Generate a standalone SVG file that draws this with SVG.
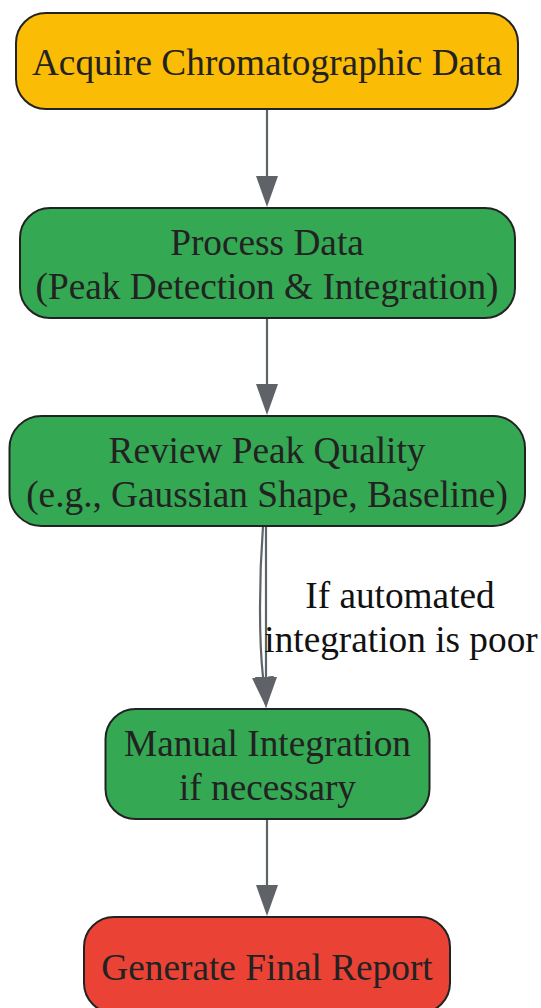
<svg xmlns="http://www.w3.org/2000/svg" width="541" height="1008" viewBox="0 0 541 1008">
<defs>
<style>
.node rect{stroke:#222222;stroke-width:2}
.node text{font-family:"Liberation Serif","Times New Roman",serif;font-size:37.3px;fill:#222222;text-anchor:middle}
.yellow rect{fill:#FBBC05}
.green rect{fill:#34A853}
.red rect{fill:#EA4335}
.edges path{fill:none;stroke:#5F6368;stroke-width:2.2}
.elabel{font-family:"Liberation Serif","Times New Roman",serif;font-size:37.3px;fill:#111111;text-anchor:middle}
</style>
<marker id="arrow" markerUnits="userSpaceOnUse" markerWidth="32" markerHeight="22" refX="0" refY="11" orient="auto" viewBox="0 0 32 22">
<path d="M0,0 L31,11 L0,22 z" fill="#5F6368"/>
</marker>
</defs>
<rect width="541" height="1008" fill="#FFFFFF"/>
<g id="connectors" class="edges">
<path d="M267,109 L267,176" marker-end="url(#arrow)"/>
<path d="M267,318 L267,384" marker-end="url(#arrow)"/>
<path d="M263,526 C259,580 259,640 263,677" marker-end="url(#arrow)"/>
<path d="M266,526 L266,677" marker-end="url(#arrow)"/>
<path d="M267,819 L267,885" marker-end="url(#arrow)"/>
</g>
<g id="edge-label">
<text class="elabel" x="400" y="608">If automated</text>
<text class="elabel" x="401" y="652">integration is poor</text>
</g>
<g id="node-acquire" class="node yellow">
<rect x="16" y="13" width="502" height="96" rx="30" ry="30"/>
<text x="267" y="75">Acquire Chromatographic Data</text>
</g>
<g id="node-process" class="node green">
<rect x="20" y="208" width="495" height="110" rx="30" ry="30"/>
<text x="267" y="255">Process Data</text>
<text x="267" y="299">(Peak Detection &amp; Integration)</text>
</g>
<g id="node-review" class="node green">
<rect x="9.5" y="416" width="515.5" height="110" rx="32" ry="32"/>
<text x="267" y="463">Review Peak Quality</text>
<text x="267" y="507">(e.g., Gaussian Shape, Baseline)</text>
</g>
<g id="node-manual" class="node green">
<rect x="105.5" y="709" width="324" height="110" rx="30" ry="30"/>
<text x="267.5" y="755.5">Manual Integration</text>
<text x="267.5" y="799.5">if necessary</text>
</g>
<g id="node-report" class="node red">
<rect x="84" y="917" width="366" height="96" rx="30" ry="30"/>
<text x="267" y="979.5">Generate Final Report</text>
</g>
</svg>
